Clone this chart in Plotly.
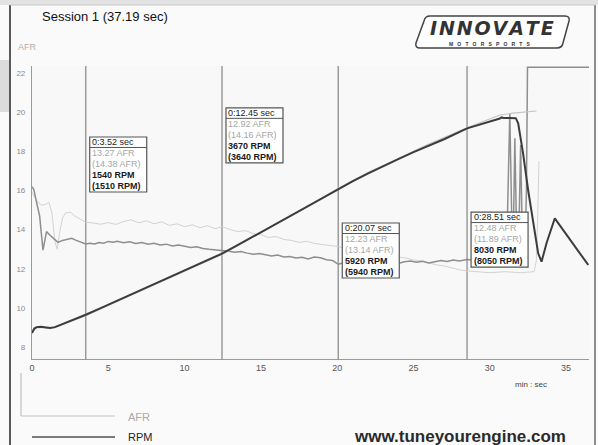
import plotly.graph_objects as go

# ---------------- data ----------------
afr_t = [0.0, 0.12, 0.3, 0.5, 0.72, 0.95, 1.2, 1.4, 1.7, 2.0, 2.3, 2.6, 2.9, 3.2, 3.52, 3.8, 4.1, 4.4, 4.7,
         5.0, 5.3, 5.6, 6.0, 6.4, 6.8, 7.2, 7.6, 8.0, 8.4, 8.8, 9.2, 9.6, 10.0, 10.4, 10.8, 11.2, 11.6,
         12.0, 12.45, 12.9, 13.3, 13.7, 14.1, 14.5, 14.9, 15.3, 15.7, 16.1, 16.5, 16.9, 17.3, 17.7, 18.1,
         18.5, 18.9, 19.3, 19.7, 20.07, 20.4, 20.8, 21.2, 21.6, 22.0, 22.4, 22.8, 23.2, 23.6, 24.0, 24.4,
         24.8, 25.2, 25.6, 26.0, 26.4, 26.8, 27.2, 27.6, 28.0, 28.51, 29.0, 29.5, 30.0, 30.5, 31.0, 31.15,
         31.31, 31.45, 31.52, 31.64, 31.76, 31.88, 32.02, 32.14, 32.3, 32.4, 32.47, 36.5]
afr = [16.2, 16.05, 15.4, 14.7, 12.95, 13.9, 13.7, 13.55, 13.35, 13.45, 13.5, 13.56, 13.45, 13.38, 13.27,
       13.3, 13.27, 13.34, 13.31, 13.4, 13.36, 13.41, 13.33, 13.38, 13.29, 13.34, 13.26, 13.31, 13.22,
       13.26, 13.17, 13.22, 13.15, 13.09, 13.13, 13.04, 13.0, 12.98, 12.92, 12.9, 12.84, 12.88, 12.8,
       12.74, 12.78, 12.7, 12.65, 12.7, 12.6, 12.63, 12.55, 12.59, 12.5, 12.6, 12.56, 12.46, 12.42, 12.23,
       12.3, 12.38, 12.27, 12.35, 12.24, 12.32, 12.22, 12.3, 12.35, 12.27, 12.36, 12.4, 12.33, 12.38,
       12.3, 12.36, 12.42, 12.37, 12.45, 12.4, 12.48, 12.44, 12.5, 12.47, 12.5, 12.55, 14.5, 19.95, 14.0,
       12.6, 18.68, 13.5, 12.7, 18.33, 13.2, 12.8, 16.0, 22.3, 22.3]

afr_ref_t = [0.0, 0.3, 0.6, 0.9, 1.1, 1.3, 1.5, 1.65, 1.8, 2.0, 2.2, 2.5, 2.8, 3.1, 3.52, 4.0, 4.5, 5.0,
             5.5, 6.0, 6.5, 7.0, 7.5, 8.0, 8.5, 9.0, 9.5, 10.0, 10.5, 11.0, 11.5, 12.0, 12.45, 13.0, 13.5,
             14.0, 14.5, 15.0, 15.5, 16.0, 16.5, 17.0, 17.5, 18.0, 18.5, 19.0, 19.5, 20.07, 20.5, 21.0,
             21.5, 22.0, 22.5, 23.0, 23.5, 24.0, 24.5, 25.0, 25.5, 26.0, 26.5, 27.0, 27.5, 28.0, 28.51,
             29.0, 30.0, 31.0, 32.0, 32.9, 33.05, 33.15, 33.22]
afr_ref = [15.9, 15.5, 15.25, 15.3, 15.4, 14.9, 13.4, 13.0, 13.8, 14.6, 14.85, 14.9, 14.7, 14.55, 14.38,
           14.34, 14.28, 14.36, 14.27, 14.42, 14.5, 14.35, 14.45, 14.3, 14.4, 14.22, 14.3, 14.15, 14.25,
           14.1, 14.2, 14.05, 14.16, 14.0, 13.9, 13.95, 13.8, 13.74, 13.6, 13.65, 13.5, 13.45, 13.35, 13.4,
           13.3, 13.24, 13.2, 13.14, 13.05, 13.1, 12.95, 12.9, 12.84, 12.75, 12.7, 12.6, 12.55, 12.45, 12.4,
           12.3, 12.2, 12.15, 12.05, 11.95, 11.89, 11.86, 11.8, 11.85, 11.8, 11.85, 12.4, 15.0, 17.5]

rpm_t = [0, 0.15, 0.3, 0.6, 0.9, 1.2, 1.5, 2.0, 2.5, 3.0, 3.52, 4.5, 5.5, 6.5, 7.5, 8.5, 9.5, 10.5, 11.5,
         12.45, 13.5, 14.5, 15.5, 16.5, 17.5, 18.5, 19.3, 20.07, 21.0, 22.0, 23.0, 24.0, 25.0, 26.0, 27.0,
         28.51, 29.5, 30.2, 30.66, 30.77, 30.9, 31.3, 31.7, 31.86, 32.18, 32.51, 32.84, 33.17, 33.39,
         33.72, 34.26, 35.03, 36.45]
rpm = [905, 1060, 1110, 1120, 1100, 1080, 1110, 1210, 1320, 1430, 1540, 1770, 2010, 2240, 2470, 2710,
       2950, 3190, 3430, 3670, 3970, 4270, 4570, 4860, 5150, 5440, 5680, 5920, 6180, 6450, 6710, 6960,
       7200, 7430, 7650, 8030, 8180, 8300, 8370, 8410, 8390, 8390, 8385, 8205, 7161, 5883, 4724, 3680,
       3387, 4038, 4898, 4316, 3272]

rpm_ref_t = [0, 0.3, 0.8, 1.5, 2.5, 3.52, 5, 7, 9, 11, 12.45, 14, 16, 18, 20.07, 22, 24, 26, 28.51, 29.5,
             30.66, 31.5, 32.3, 33.06]
rpm_ref = [950, 1080, 1100, 1090, 1300, 1510, 1860, 2340, 2820, 3300, 3640, 4100, 4690, 5290, 5940, 6490,
           6980, 7480, 8050, 8250, 8494, 8560, 8600, 8633]

cursor_t = [3.52, 12.45, 20.07, 28.51]
cursor_afr = [13.27, 12.92, 12.23, 12.48]
cursor_afr_ref = [14.38, 14.16, 13.14, 11.89]
cursor_rpm = [1540, 3670, 5920, 8030]
cursor_rpm_ref = [1510, 3640, 5940, 8050]
box_top_afr = [18.74, 20.23, 14.34, 14.90]   # label box placement (AFR units)

x_ticks = [0, 5, 10, 15, 20, 25, 30, 35]
y_ticks = [8, 10, 12, 14, 16, 18, 20, 22]

# ---------------- layout geometry ----------------
W, H = 598, 445
ML, MR, MT, MB = 32, 9, 66, 86
PW, PH = W - ML - MR, H - MT - MB
X_RANGE = [0, 36.5]
Y_RANGE = [7.386, 22.37]
RPM_RANGE = [0, 10200]
DX = (X_RANGE[1] - X_RANGE[0]) / PW   # data units per pixel
DY = (Y_RANGE[1] - Y_RANGE[0]) / PH

def px(x):
    return (x - ML) / PW

def py(y):
    return 1 - (y - MT) / PH

FONT = "Liberation Sans, Arial, sans-serif"

fig = go.Figure()
fig.add_trace(go.Scatter(x=afr_ref_t, y=afr_ref, mode="lines", name="AFR (ref)",
                         line=dict(color="#d2d2d2", width=1), hoverinfo="skip"))
fig.add_trace(go.Scatter(x=rpm_ref_t, y=rpm_ref, mode="lines", name="RPM (ref)", yaxis="y2",
                         line=dict(color="#c4c4c4", width=1.2), hoverinfo="skip"))
fig.add_trace(go.Scatter(x=afr_t, y=afr, mode="lines", name="AFR",
                         line=dict(color="#8e8e8e", width=1.5)))
fig.add_trace(go.Scatter(x=rpm_t, y=rpm, mode="lines", name="RPM", yaxis="y2",
                         line=dict(color="#3c3c3c", width=2)))

shapes = []
annotations = []

# cursor lines
for t in cursor_t:
    shapes.append(dict(type="line", xref="x", yref="paper", x0=t, x1=t, y0=0, y1=1,
                       line=dict(color="#9c9c9c", width=1.5), layer="below"))

# cursor boxes
BW, BH = 57, 55
for t, a, ar, r, rr, top in zip(cursor_t, cursor_afr, cursor_afr_ref, cursor_rpm, cursor_rpm_ref, box_top_afr):
    x0 = t + 4 * DX
    x1 = x0 + BW * DX
    y1 = top
    y0 = top - BH * DY
    shapes.append(dict(type="rect", xref="x", yref="y", x0=x0, x1=x1, y0=y0, y1=y1,
                       fillcolor="white", line=dict(color="#555555", width=1.2), layer="above"))
    shapes.append(dict(type="line", xref="x", yref="y", x0=x0, x1=x1, y0=top - 10.5 * DY, y1=top - 10.5 * DY,
                       line=dict(color="#555555", width=1), layer="above"))
    rows = [(f"0:{t:.2f} sec", "#222222", 5.2),
            (f"{a:.2f} AFR", "#a6a6a6", 16.3),
            (f"({ar:.2f} AFR)", "#a6a6a6", 27.2),
            (f"<b>{r} RPM</b>", "#1a1a1a", 38.0),
            (f"<b>({rr} RPM)</b>", "#1a1a1a", 48.8)]
    for txt, col, off in rows:
        annotations.append(dict(x=x0 + 1.5 * DX, y=top - off * DY, xref="x", yref="y", text=txt,
                                showarrow=False, xanchor="left", yanchor="middle", borderpad=0,
                                font=dict(family=FONT, size=9, color=col)))

# frame / decoration
shapes += [
    dict(type="rect", xref="paper", yref="paper", x0=px(0), x1=px(W), y0=py(0), y1=py(5),
         fillcolor="#e2e2e2", line=dict(width=0), layer="below"),
    dict(type="rect", xref="paper", yref="paper", x0=px(0), x1=px(9), y0=py(60), y1=py(112),
         fillcolor="#dcdcdc", line=dict(width=0), layer="below"),
    dict(type="line", xref="paper", yref="paper", x0=px(10), x1=px(10), y0=py(5), y1=py(H),
         line=dict(color="#5a5a5a", width=2)),
    dict(type="line", xref="paper", yref="paper", x0=px(595), x1=px(595), y0=py(5), y1=py(H),
         line=dict(color="#6a6a6a", width=1.5)),
    dict(type="line", xref="paper", yref="paper", x0=px(10), x1=px(595), y0=py(5), y1=py(5),
         line=dict(color="#c8c8c8", width=1)),
]

# logo outline
logo_pts = [("M", 430, 16), ("L", 565, 16), ("Q", 570, 16, 569, 21), ("L", 563, 43),
            ("Q", 562, 48, 557, 48), ("L", 420, 48), ("Q", 415, 48, 416, 43), ("L", 424, 21),
            ("Q", 425, 16, 430, 16)]
path = ""
for p in logo_pts:
    if p[0] == "Q":
        path += f"Q {px(p[1])},{py(p[2])} {px(p[3])},{py(p[4])} "
    else:
        path += f"{p[0]} {px(p[1])},{py(p[2])} "
path += "Z"
shapes.append(dict(type="path", xref="paper", yref="paper", path=path, fillcolor="white",
                   line=dict(color="#444444", width=1.5)))

# legend (custom)
shapes += [
    dict(type="line", xref="paper", yref="paper", x0=px(21), x1=px(21), y0=py(373), y1=py(416),
         line=dict(color="#c0c0c0", width=1.2)),
    dict(type="line", xref="paper", yref="paper", x0=px(21), x1=px(115), y0=py(416), y1=py(416),
         line=dict(color="#c0c0c0", width=1.2)),
    dict(type="line", xref="paper", yref="paper", x0=px(32), x1=px(115), y0=py(437), y1=py(437),
         line=dict(color="#505050", width=1.5)),
]
HS = "\u200a"
annotations += [
    dict(x=px(40), y=py(17), xref="paper", yref="paper", text="Session 1 (37.19 sec)", showarrow=False,
         xanchor="left", yanchor="middle", font=dict(family=FONT, size=13, color="#111111")),
    dict(x=px(16), y=py(47), xref="paper", yref="paper", text="AFR", showarrow=False,
         xanchor="left", yanchor="middle", font=dict(family=FONT, size=9, color="#b0b0b0")),
    dict(x=px(492), y=py(40), xref="paper", yref="paper",
         text="<b><i>" + HS.join("INNOVATE") + "</i></b>", showarrow=False, borderpad=0,
         xanchor="center", yanchor="bottom", font=dict(family="DejaVu Sans", size=19, color="#333333")),
    dict(x=px(490), y=py(40.5), xref="paper", yref="paper",
         text="<b>" + "\u00a0\u00a0\u00a0".join("MOTORSPORTS") + "</b>", showarrow=False, borderpad=0,
         xanchor="center", yanchor="top", font=dict(family=FONT, size=5, color="#333333")),
    dict(x=px(531), y=py(384), xref="paper", yref="paper", text="min : sec", showarrow=False,
         xanchor="center", yanchor="middle", font=dict(family=FONT, size=8, color="#444444")),
    dict(x=px(126), y=py(417), xref="paper", yref="paper", text="AFR", showarrow=False,
         xanchor="left", yanchor="middle", font=dict(family=FONT, size=11, color="#aaaaaa")),
    dict(x=px(126), y=py(437), xref="paper", yref="paper", text="RPM", showarrow=False,
         xanchor="left", yanchor="middle", font=dict(family=FONT, size=11, color="#222222")),
    dict(x=px(460), y=py(436), xref="paper", yref="paper", text="<b>www.tuneyourengine.com</b>",
         showarrow=False, xanchor="center", yanchor="middle", borderpad=0,
         font=dict(family=FONT, size=17, color="#2a2a2a")),
]

fig.update_layout(
    width=W, height=H,
    margin=dict(l=ML, r=MR, t=MT, b=MB, pad=0),
    paper_bgcolor="#fafafa",
    plot_bgcolor="#f8f8f8",
    showlegend=False,
    shapes=shapes,
    annotations=annotations,
    font=dict(family=FONT),
    xaxis=dict(range=X_RANGE, tickvals=x_ticks, ticktext=[str(v) for v in x_ticks],
               showgrid=False, zeroline=False, showline=True, linecolor="#9a9a9a", linewidth=1.2,
               ticks="", tickfont=dict(size=9, color="#555555"), fixedrange=True),
    yaxis=dict(range=Y_RANGE, tickvals=y_ticks, ticktext=[str(v) for v in y_ticks],
               showgrid=False, zeroline=False, showline=True, linecolor="#9a9a9a", linewidth=1.2,
               ticks="", tickfont=dict(size=8, color="#8a8a8a"), ticklabelstandoff=4, fixedrange=True),
    yaxis2=dict(range=RPM_RANGE, overlaying="y", side="right", visible=False, fixedrange=True),
)

fig.write_html("out.html", config={"displayModeBar": False},
               post_script="document.body.style.margin='0px';document.body.style.overflow='hidden';")
